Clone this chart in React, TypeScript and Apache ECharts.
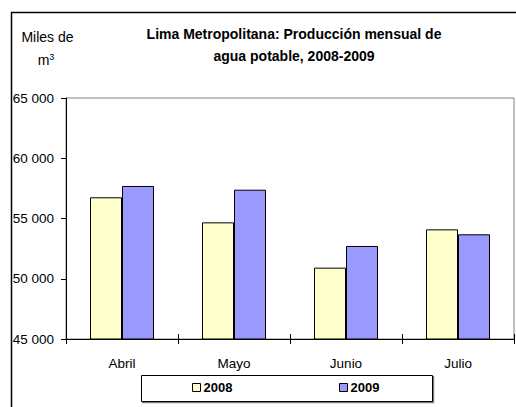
import React, { useEffect, useRef } from "react";
import * as echarts from "echarts";

const categories = ["Abril", "Mayo", "Junio", "Julio"];
const values2008 = [56760, 54680, 50920, 54100];
const values2009 = [57700, 57390, 52720, 53690];
const seriesNames = ["2008", "2009"];
const yTicks = { min: 45000, max: 65000, interval: 5000 };

const FONT = "'Liberation Sans', Arial, sans-serif";

export default function App() {
  const ref = useRef<HTMLDivElement>(null);
  useEffect(() => {
    if (!ref.current) return;
    const chart = echarts.init(ref.current, null, { renderer: "svg" });
    const fmt = (v: number) => {
      const s = String(Math.round(v));
      return s.replace(/\B(?=(\d{3})+(?!\d))/g, " ");
    };
    const legendCommon = {
      top: 381,
      padding: 0,
      itemWidth: 8,
      itemHeight: 8,
      itemGap: 4,
      icon: "rect",
      textStyle: { fontFamily: FONT, fontSize: 13, fontWeight: "bold", color: "#000", padding: [0, 0, 0, -2] },
      itemStyle: { borderColor: "#000", borderWidth: 1 },
    };
    chart.setOption({
      animation: false,
      backgroundColor: "#ffffff",
      textStyle: { fontFamily: FONT },
      grid: {
        left: 66,
        top: 98,
        width: 448,
        height: 241,
        show: true,
        borderColor: "#808080",
        borderWidth: 1,
        backgroundColor: "transparent",
      },
      legend: [
        { ...legendCommon, data: [seriesNames[0]], left: 192 },
        { ...legendCommon, data: [seriesNames[1]], left: 339 },
      ],
      xAxis: [
        {
          type: "category",
          data: categories,
          position: "bottom",
          axisLine: { lineStyle: { color: "#000", width: 1 } },
          axisTick: { show: true, length: 5, lineStyle: { color: "#000" } },
          axisLabel: { fontFamily: FONT, fontSize: 13.5, color: "#000", margin: 17 },
          splitLine: { show: false },
        },
        {
          type: "category",
          data: categories,
          position: "bottom",
          axisLine: { show: false },
          axisTick: { show: true, inside: true, length: 5, lineStyle: { color: "#000" } },
          axisLabel: { show: false },
          splitLine: { show: false },
        },
      ],
      yAxis: {
        type: "value",
        min: yTicks.min,
        max: yTicks.max,
        interval: yTicks.interval,
        axisLine: { show: true, lineStyle: { color: "#000", width: 1 } },
        axisTick: { show: true, length: 5, lineStyle: { color: "#000" } },
        axisLabel: { fontFamily: FONT, fontSize: 13.5, color: "#000", margin: 12, formatter: fmt },
        splitLine: { show: false },
      },
      series: [
        {
          name: seriesNames[0],
          type: "bar",
          data: values2008,
          barWidth: 32,
          barGap: "0%",
          itemStyle: { color: "#FFFFCC", borderColor: "#000", borderWidth: 1 },
        },
        {
          name: seriesNames[1],
          type: "bar",
          data: values2009,
          barWidth: 32,
          barGap: "0%",
          itemStyle: { color: "#9999FF", borderColor: "#000", borderWidth: 1 },
        },
      ],
      graphic: [
        { type: "line", shape: { x1: 11.5, y1: 12, x2: 11.5, y2: 407 }, style: { stroke: "#000", lineWidth: 1.5 } },
        { type: "line", shape: { x1: 11, y1: 12.5, x2: 516, y2: 12.5 }, style: { stroke: "#000", lineWidth: 1.5 } },
        {
          type: "text",
          x: 294,
          y: 44.5,
          style: {
            text: "Lima Metropolitana: Producción mensual de\nagua potable, 2008-2009",
            font: "bold 14px 'Liberation Sans', Arial, sans-serif",
            fill: "#000",
            textAlign: "center",
            textVerticalAlign: "middle",
            lineHeight: 22,
          },
        },
        {
          type: "text",
          x: 47.5,
          y: 37,
          style: {
            text: "Miles de",
            font: "14px 'Liberation Sans', Arial, sans-serif",
            fill: "#000",
            textAlign: "center",
            textVerticalAlign: "middle",
          },
        },
        {
          type: "text",
          x: 46,
          y: 60,
          style: {
            text: "{m|m}{s|3}",
            textAlign: "center",
            textVerticalAlign: "middle",
            rich: {
              m: { font: "14px 'Liberation Sans', Arial, sans-serif", fill: "#000", lineHeight: 16 },
              s: { font: "9px 'Liberation Sans', Arial, sans-serif", fill: "#000", verticalAlign: "top", padding: [0, 0, 6, 0], lineHeight: 16 },
            },
          },
        },
        {
          type: "polyline",
          shape: { points: [[433.5, 376], [433.5, 402.5], [142, 402.5]] },
          style: { stroke: "#808080", lineWidth: 1.5, fill: "none" },
        },
        {
          type: "rect",
          shape: { x: 141.5, y: 375.5, width: 291, height: 26 },
          style: { stroke: "#000", lineWidth: 1, fill: "none" },
        },
      ],
    });
    return () => chart.dispose();
  }, []);
  return (
    <div
      ref={ref}
      style={{ position: "absolute", left: 0, top: 0, width: 516, height: 407 }}
    />
  );
}
